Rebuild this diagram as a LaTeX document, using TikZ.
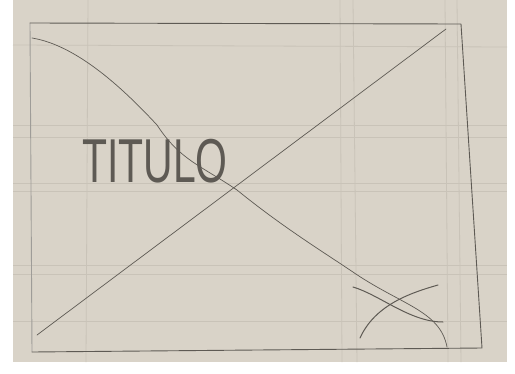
\documentclass[tikz,border=0pt]{standalone}
\usepackage{fontspec}
\setmainfont{Liberation Sans}
\definecolor{paper}{HTML}{D9D3C8}
\definecolor{pencil}{HTML}{5E5A54}
\definecolor{guide}{HTML}{C9C3B8}
\tikzset{
  pen/.style={draw=pencil, line width=0.9pt, line cap=round, line join=round},
  guideline/.style={draw=guide, line width=0.8pt},
}
\begin{document}
\begin{tikzpicture}[x=1pt,y=-1pt]
\useasboundingbox (0,0) rectangle (515,373);
\fill[white] (0,0) rectangle (515,373);
\fill[paper] (13,0) rectangle (507,362);
% faint guide grid
\draw[guideline] (13,45) -- (507,47);
\draw[guideline] (13,125) -- (507,125);
\draw[guideline] (13,137) -- (507,137);
\draw[guideline] (13,183) -- (507,183);
\draw[guideline] (13,191) -- (507,191);
\draw[guideline] (13,265) -- (507,265);
\draw[guideline] (13,274) -- (507,274);
\draw[guideline] (13,321) -- (507,321);
\draw[guideline] (88,0) -- (86,362);
\draw[guideline] (340,0) -- (342,362);
\draw[guideline] (353,0) -- (357,362);
\draw[guideline] (445,0) -- (448,362);
\draw[guideline] (457,0) -- (461,362);
% frame
\coordinate (tl) at (30,23);
\coordinate (tr) at (461,24);
\coordinate (br) at (482,348);
\coordinate (bl) at (32,352);
\draw[pen, draw=pencil!60] (tl) -- (bl);
\draw[pen] (tl) -- (tr) -- (br) -- (bl);
% straight diagonal
\coordinate (d1a) at (37,335);
\coordinate (d1b) at (446,29);
\draw[pen, line width=0.7pt] (d1a) -- (d1b);
% curved diagonal
\coordinate (c0) at (32,38);
\coordinate (c1) at (157,125);
\coordinate (c2) at (237,190);
\coordinate (c3) at (350,270);
\coordinate (c4) at (447,347);
\draw[pen, line width=0.7pt] (c0) .. controls (75,45) and (120,85) .. (c1)
  .. controls (180,160) and (200,165) .. (c2)
  .. controls (280,225) and (320,250) .. (c3)
  .. controls (400,305) and (440,310) .. (c4);
% small X
\coordinate (xa) at (353,287);
\coordinate (xb) at (443,322);
\coordinate (xc) at (360,338);
\coordinate (xd) at (438,285);
\draw[pen, line width=1pt] (xa) .. controls (380,295) and (410,322) .. (xb);
\draw[pen, line width=1pt] (xc) .. controls (375,305) and (410,293) .. (xd);
% title
\node[text=pencil, font=\fontsize{62}{62}\selectfont, xscale=0.66, anchor=center, inner sep=0pt] (title) at (155,161) {TITULO};
\end{tikzpicture}
\end{document}
